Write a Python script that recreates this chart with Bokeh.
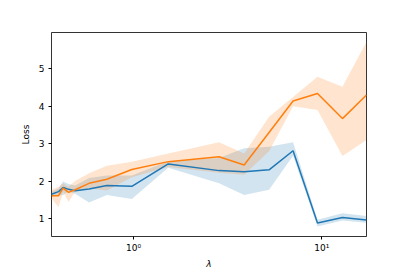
from bokeh.plotting import figure
from bokeh.models import Range1d, FixedTicker, CustomJSTickFormatter
from bokeh.embed import file_html
from bokeh.resources import INLINE

lam = [0.367, 0.400, 0.423, 0.452, 0.490, 0.581, 0.722, 0.98, 1.53, 2.85, 3.87, 5.25, 7.04, 9.49, 12.88, 17.28]

blue_mean = [1.65, 1.72, 1.83, 1.78, 1.74, 1.79, 1.88, 1.86, 2.46, 2.28, 2.25, 2.30, 2.81, 0.88, 1.03, 0.96]
blue_lo = [1.58, 1.62, 1.63, 1.72, 1.66, 1.43, 1.63, 1.52, 2.36, 1.94, 1.63, 1.77, 2.68, 0.79, 0.95, 0.89]
blue_hi = [1.72, 1.80, 1.99, 1.92, 1.88, 2.08, 2.15, 2.15, 2.53, 2.62, 2.88, 2.92, 3.04, 0.97, 1.14, 1.07]

orange_mean = [1.61, 1.61, 1.81, 1.70, 1.77, 1.94, 2.05, 2.31, 2.52, 2.65, 2.43, 3.30, 4.14, 4.34, 3.67, 4.30]
orange_lo = [1.54, 1.30, 1.72, 1.44, 1.72, 1.81, 1.75, 2.10, 2.38, 2.22, 2.17, 2.80, 4.00, 3.90, 2.67, 3.10]
orange_hi = [1.77, 1.85, 1.94, 1.85, 2.00, 2.21, 2.41, 2.52, 2.74, 3.04, 2.74, 3.72, 4.25, 4.79, 4.52, 5.72]

x_ticks = [1, 10]
y_ticks = [1, 2, 3, 4, 5]

BLUE = "#1f77b4"
ORANGE = "#ff7f0e"
FONT = "DejaVu Sans"

p = figure(width=407, height=271, x_axis_type="log",
           x_range=Range1d(min(lam), max(lam)), y_range=Range1d(0.52, 5.97),
           output_backend="svg", toolbar_location=None,
           min_border_left=51, min_border_right=41, min_border_top=32, min_border_bottom=34)

p.varea(x=lam, y1=blue_lo, y2=blue_hi, fill_color=BLUE, fill_alpha=0.2)
p.varea(x=lam, y1=orange_lo, y2=orange_hi, fill_color=ORANGE, fill_alpha=0.2)
p.line(lam, blue_mean, line_color=BLUE, line_width=1.5)
p.line(lam, orange_mean, line_color=ORANGE, line_width=1.5)

p.grid.visible = False
p.outline_line_color = "black"
p.outline_line_width = 1
p.outline_line_alpha = 0.8
p.background_fill_color = "white"
p.border_fill_color = "white"

p.xaxis.ticker = FixedTicker(ticks=x_ticks, minor_ticks=[])
p.xaxis.formatter = CustomJSTickFormatter(code="""
const e = Math.round(Math.log10(tick));
const sup = {"0": "\u2070", "1": "\u00b9", "2": "\u00b2", "3": "\u00b3", "-": "\u207b"};
return "10" + String(e).split("").map(c => sup[c]).join("");
""")
p.yaxis.ticker = FixedTicker(ticks=y_ticks, minor_ticks=[])

p.xaxis.axis_label = "λ"
p.yaxis.axis_label = "Loss"

for ax in (p.xaxis, p.yaxis):
    ax.axis_line_color = None
    ax.major_tick_out = 3
    ax.major_tick_in = 0
    ax.minor_tick_out = 0
    ax.minor_tick_in = 0
    ax.major_tick_line_color = "black"
    ax.major_label_text_font = FONT
    ax.major_label_text_font_size = "9px"
    ax.major_label_text_color = "black"
    ax.axis_label_text_font = FONT
    ax.axis_label_text_font_size = "9px"
    ax.axis_label_text_font_style = "normal"
    ax.axis_label_text_color = "black"

p.xaxis.axis_label_text_font_style = "italic"
p.xaxis.major_label_standoff = 3
p.xaxis.axis_label_standoff = 3
p.yaxis.major_label_standoff = 4
p.yaxis.axis_label_standoff = 5

open("out.html", "w").write(file_html(p, INLINE))
